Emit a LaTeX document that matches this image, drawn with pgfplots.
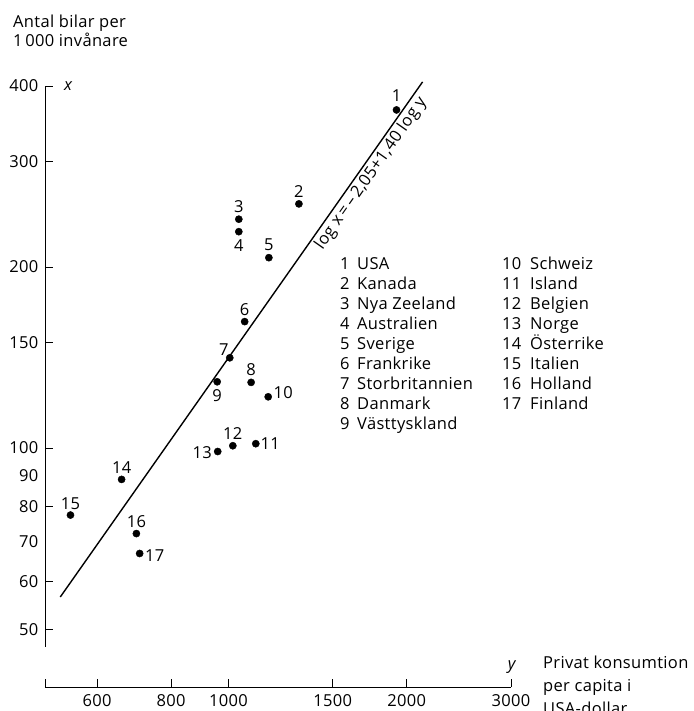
\documentclass[border=0pt]{standalone}
\usepackage{pgfplots}
\pgfplotsset{compat=1.18}
\usepackage{fontspec}
\setmainfont[LetterSpace=2]{Open Sans}
\begin{document}
\fontsize{16.5pt}{19pt}\selectfont
\begin{tikzpicture}
\path[use as bounding box] (-45pt,-64pt) rectangle (648pt,647pt);
\begin{axis}[
  scale only axis, width=466pt, height=561pt,
  xmode=log, ymode=log,
  xmin=490, xmax=3000, ymin=46.7, ymax=400,
  axis x line=bottom, axis y line=left,
  axis line style={-, line width=0.9pt},
  axis x line shift=40pt,
  tick align=inside,
  major tick length=8pt,
  tick style={line width=0.9pt, black},
  xminorticks=false, yminorticks=false,
  xtick={600,800,1000,1500,2000,3000},
  xticklabels={600,800,1000,1500,2000,3000},
  xticklabel style={inner sep=1pt, yshift=-6pt},
  extra x ticks={490}, extra x tick labels={},
  ytick={50,60,80,100,150,200,300,400},
  yticklabels={50,60,80,100,150,200,300,400},
  yticklabel style={xshift=-1pt},
  extra y ticks={70,90}, extra y tick labels={70,90},
  extra y tick style={major tick length=0pt},
  clip=false,
]
% regression line log x = -2.05 + 1.40 log y
\addplot[black, line width=1.4pt] coordinates {(520,56.56) (2127,406.3)};
% countries
\addplot[only marks, mark=*, mark size=3.6pt, black] coordinates {
 (1922,365) (1315,254.7) (1041,240.2) (1041,229.0) (1170,207.3)
 (1065,162.3) (1005,141.3) (1092,128.6) (957,128.9) (1167,121.7)
 (1112,101.7) (1017,100.9) (959,98.7) (660,88.7) (541,77.4)
 (699,72.1) (708,66.8)};
\begin{scope}[every node/.style={inner sep=0pt}]
\node[yshift=14pt] at (axis cs:1922,365) {1};
\node[yshift=12.5pt] at (axis cs:1315,254.7) {2};
\node[yshift=12.5pt] at (axis cs:1041,240.2) {3};
\node[yshift=-13.5pt] at (axis cs:1041,229.0) {4};
\node[yshift=12.5pt] at (axis cs:1170,207.3) {5};
\node[yshift=12.5pt] at (axis cs:1065,162.3) {6};
\node[xshift=-6pt, yshift=8pt] at (axis cs:1005,141.3) {7};
\node[yshift=12.5pt] at (axis cs:1092,128.6) {8};
\node[yshift=-14pt] at (axis cs:957,128.9) {9};
\node[xshift=15pt, yshift=4pt] at (axis cs:1167,121.7) {10};
\node[xshift=14.5pt] at (axis cs:1112,101.7) {11};
\node[yshift=12pt] at (axis cs:1017,100.9) {12};
\node[xshift=-15.5pt, yshift=-1.4pt] at (axis cs:959,98.7) {13};
\node[yshift=11.5pt] at (axis cs:660,88.7) {14};
\node[yshift=11.5pt] at (axis cs:541,77.4) {15};
\node[yshift=11.5pt] at (axis cs:699,72.1) {16};
\node[xshift=15pt, yshift=-1.7pt] at (axis cs:708,66.8) {17};
\end{scope}
\node[rotate=54.9, anchor=north, inner sep=1pt] at (axis cs:1690,292) {log x\,=\,\textendash\,2,05+1,40 log y};
\end{axis}
% axis annotations
\node[anchor=base west, inner sep=0pt] at (-32pt,619pt) {Antal bilar per};
\node[anchor=base west, inner sep=0pt] at (-32pt,600pt) {1\,000 invånare};
\node[anchor=base, inner sep=0pt] at (23pt,556pt) {\itshape x};
\node[anchor=base, inner sep=0pt] at (466.7pt,-23pt) {\itshape y};
\node[anchor=base west, inner sep=0pt] at (498pt,-21pt) {Privat konsumtion};
\node[anchor=base west, inner sep=0pt] at (498pt,-44pt) {per capita i};
\node[anchor=base west, inner sep=0pt] at (498pt,-67pt) {USA-dollar};
% legend
\foreach \n/\name [count=\i from 0] in {1/USA,2/Kanada,3/Nya Zeeland,4/Australien,5/Sverige,6/Frankrike,7/Storbritannien,8/Danmark,9/Västtyskland}{
  \node[anchor=base west, inner sep=0pt] at (295pt,377pt-\i*20pt) {\n};
  \node[anchor=base west, inner sep=0pt] at (312pt,377pt-\i*20pt) {\name};
}
\foreach \n/\name [count=\i from 0] in {10/Schweiz,11/Island,12/Belgien,13/Norge,14/Österrike,15/Italien,16/Holland,17/Finland}{
  \node[anchor=base west, inner sep=0pt] at (457pt,377pt-\i*20pt) {\n};
  \node[anchor=base west, inner sep=0pt] at (485pt,377pt-\i*20pt) {\name};
}
\end{tikzpicture}
\end{document}
